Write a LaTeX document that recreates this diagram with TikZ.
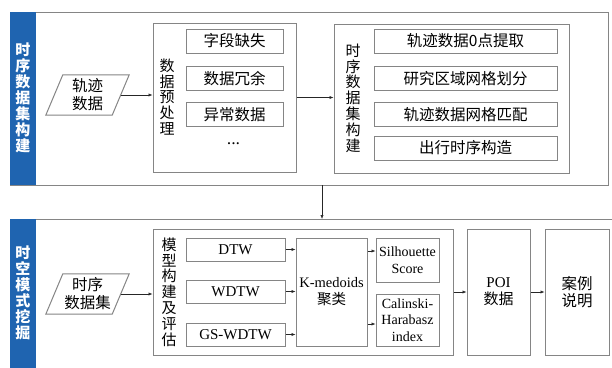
\documentclass[tikz,border=0pt]{standalone}
\usepackage{fontspec}
\setmainfont{Liberation Serif}
\newfontfamily\cjk{Noto Sans CJK SC}
\usetikzlibrary{arrows.meta,calc}
\definecolor{lc}{HTML}{858585}
\definecolor{band}{HTML}{1F64B0}
\begin{document}
\begin{tikzpicture}[x=1pt,y=-1pt,
  frame/.style={draw=lc,line width=1pt},
  sub/.style={draw=lc,line width=1pt,inner sep=0pt,align=center,font=\cjk\fontsize{15.5}{17}\selectfont},
  lat/.style={draw=lc,line width=1pt,inner sep=0pt,align=center,font=\fontsize{15}{17}\selectfont},
  arr/.style={draw=black!85,line width=0.6pt,-{Latex[length=4pt,width=3.2pt]}},
  vlab/.style={align=center,inner sep=0pt,font=\cjk\fontsize{15}{15.8}\selectfont},
  blab/.style={align=center,inner sep=0pt,text=white,font=\cjk\bfseries\fontsize{15}{16}\selectfont},
  para/.style={minimum width=66,minimum height=40,inner sep=0pt,align=center,font=\cjk\fontsize{15.5}{18}\selectfont}]
\useasboundingbox (0,0) rectangle (612,367);
\clip (0,0) rectangle (612,367);
\fill[white] (0,0) rectangle (612,367);

% ---------- top section ----------
\node[frame,minimum width=598,minimum height=173,anchor=north west,inner sep=0pt] (top) at (10,12) {};
\fill[band] (10,12) rectangle (36,185);
\node[blab] (bandtop) at (23,98) {时\\序\\数\\据\\集\\构\\建};

\node[para] (traj) at (87.5,95) {轨迹\\数据};
\draw[frame] ($(traj.south west)+(-8.5,0)$) -- ($(traj.north west)+(8.5,0)$) -- ($(traj.north east)+(8.5,0)$) -- ($(traj.south east)+(-8.5,0)$) -- cycle;

\node[frame,minimum width=143,minimum height=149,inner sep=0pt] (pre) at (224.5,97.5) {};
\node[vlab] (prelab) at (167,97) {数\\据\\预\\处\\理};
\node[sub,minimum width=97,minimum height=24] (p1) at (234.5,41) {字段缺失};
\node[sub,minimum width=97,minimum height=24] (p2) at (234.5,78.5) {数据冗余};
\node[sub,minimum width=97,minimum height=24] (p3) at (234.5,114.5) {异常数据};
\node[inner sep=0pt,font=\fontsize{8.5}{9}\selectfont] (pdots) at (233.5,145) {\textbullet\,\textbullet\,\textbullet};

\node[frame,minimum width=235,minimum height=149,inner sep=0pt] (ds) at (451.5,98.5) {};
\node[vlab] (dslab) at (353,98) {时\\序\\数\\据\\集\\构\\建};
\node[sub,minimum width=183,minimum height=24] (d1) at (465.5,41) {轨迹数据0点提取};
\node[sub,minimum width=183,minimum height=24] (d2) at (465.5,78.5) {研究区域网格划分};
\node[sub,minimum width=183,minimum height=24] (d3) at (465.5,114.5) {轨迹数据网格匹配};
\node[sub,minimum width=183,minimum height=24] (d4) at (465.5,148) {出行时序构造};

\draw[arr] (traj.east) -- (traj.east -| pre.west);
\draw[arr] (pre.east) -- (pre.east -| ds.west);

% ---------- bottom section ----------
\node[frame,minimum width=620,minimum height=170,anchor=north west,inner sep=0pt] (bot) at (10,219) {};
\fill[band] (10,219) rectangle (36,372);
\node[blab] (bandbot) at (23,292.5) {时\\空\\模\\式\\挖\\掘};

\coordinate (tb) at (322,185);
\draw[arr] (tb) -- (tb |- bot.north);

\node[para] (ts) at (87.5,294) {时序\\数据集};
\draw[frame] ($(ts.south west)+(-8.5,0)$) -- ($(ts.north west)+(8.5,0)$) -- ($(ts.north east)+(8.5,0)$) -- ($(ts.south east)+(-8.5,0)$) -- cycle;

\node[frame,minimum width=300,minimum height=126,inner sep=0pt] (model) at (303,292) {};
\node[vlab] (mlab) at (169,292) {模\\型\\构\\建\\及\\评\\估};
\node[lat,minimum width=99,minimum height=23] (m1) at (235.5,249.5) {DTW};
\node[lat,minimum width=99,minimum height=23] (m2) at (235.5,291.5) {WDTW};
\node[lat,minimum width=99,minimum height=23] (m3) at (235.5,334.5) {GS-WDTW};
\node[lat,minimum width=71,minimum height=108,font=\fontsize{14.5}{17}\selectfont] (km) at (331.5,292) {K-medoids\\{\cjk 聚类}};
\node[lat,minimum width=63,minimum height=44,font=\fontsize{14}{17}\selectfont] (sil) at (407.5,260) {Silhouette\\Score};
\node[lat,minimum width=63,minimum height=52,font=\fontsize{14}{16.5}\selectfont] (cal) at (407.5,320) {Calinski-\\Harabasz\\index};

\node[lat,minimum width=63,minimum height=126,font=\fontsize{15}{17}\selectfont] (poi) at (498.5,292) {POI\\{\cjk 数据}};
\node[sub,minimum width=64,minimum height=126,font=\cjk\fontsize{15.5}{17}\selectfont] (case) at (577,292) {案例\\说明};

\draw[arr] (ts.east) -- (ts.east -| model.west);
\draw[arr] (m1.east) -- (m1.east -| km.west);
\draw[arr] (m2.east) -- (m2.east -| km.west);
\draw[arr] (m3.east) -- (m3.east -| km.west);
\draw[arr] ([yshift=9pt]sil.west -| km.east) -- ([yshift=9pt]sil.west);
\draw[arr] ([yshift=-4pt]cal.west -| km.east) -- ([yshift=-4pt]cal.west);
\draw[arr] (model.east) -- (model.east -| poi.west);
\draw[arr] (poi.east) -- (case.west);
\end{tikzpicture}
\end{document}
